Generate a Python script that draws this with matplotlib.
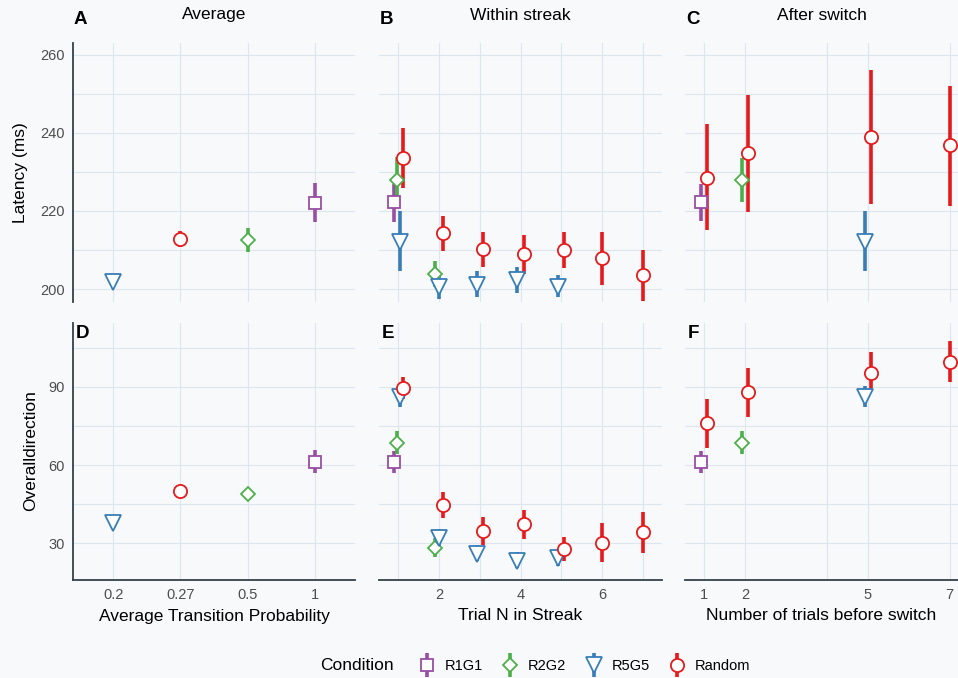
import numpy as np
import matplotlib
matplotlib.use("Agg")
import matplotlib.pyplot as plt
from matplotlib.container import ErrorbarContainer
from matplotlib.legend_handler import HandlerErrorbar

plt.rcParams['font.family'] = ['Liberation Sans', 'DejaVu Sans']

# conditions / styles
conditions = ['R1G1', 'R2G2', 'R5G5', 'Random']
colors = {'R1G1': '#984EA3', 'R2G2': '#4DAF4A', 'R5G5': '#377EB8', 'Random': '#E41A1C'}
markers = {'R1G1': 's', 'R2G2': 'D', 'R5G5': 'v', 'Random': 'o'}
msizes = {'R1G1': 8.5, 'R2G2': 7.5, 'R5G5': 12, 'Random': 9.5}

# panel A / D : average
avg_labels = ['0.2', '0.27', '0.5', '1']
avg_cond = ['R5G5', 'Random', 'R2G2', 'R1G1']
avg_lat = [201.8, 212.7, 212.6, 222.1]
avg_lat_lo = [200.6, 210.7, 209.4, 217.1]
avg_lat_hi = [203.2, 214.8, 215.6, 227.1]
avg_dir = [37.6, 50.0, 48.7, 61.0]
avg_dir_lo = [37.1, 49.5, 48.2, 56.8]
avg_dir_hi = [38.1, 50.5, 49.2, 65.8]

# panel B / E : within streak
streak_x = {'R1G1': [1], 'R2G2': [1, 2], 'R5G5': [1, 2, 3, 4, 5], 'Random': [1, 2, 3, 4, 5, 6, 7]}
streak_lat = {'R1G1': [222.2], 'R2G2': [227.9, 203.8],
              'R5G5': [212.0, 200.6, 201.0, 202.3, 200.6],
              'Random': [233.6, 214.3, 210.2, 209.0, 210.0, 207.9, 203.6]}
streak_lat_lo = {'R1G1': [217.3], 'R2G2': [222.5, 200.5],
                 'R5G5': [204.7, 197.4, 198.0, 199.0, 198.0],
                 'Random': [225.8, 209.8, 205.6, 203.8, 205.3, 201.0, 196.9]}
streak_lat_hi = {'R1G1': [227.0], 'R2G2': [233.8, 207.3],
                 'R5G5': [220.1, 203.5, 204.7, 205.6, 203.6],
                 'Random': [241.2, 218.7, 214.7, 213.8, 214.6, 214.5, 210.0]}
streak_dir = {'R1G1': [61.0], 'R2G2': [68.6, 28.0],
              'R5G5': [86.0, 31.8, 25.8, 23.2, 24.1],
              'Random': [89.5, 44.6, 34.7, 37.2, 27.7, 30.1, 34.3]}
streak_dir_lo = {'R1G1': [56.8], 'R2G2': [64.2, 24.7],
                 'R5G5': [82.2, 28.5, 23.0, 20.5, 21.0],
                 'Random': [85.5, 39.5, 29.2, 31.5, 23.0, 22.8, 26.0]}
streak_dir_hi = {'R1G1': [65.5], 'R2G2': [73.2, 31.8],
                 'R5G5': [89.0, 35.3, 29.2, 26.4, 27.3],
                 'Random': [93.7, 49.7, 40.1, 42.7, 32.4, 37.6, 42.0]}

# panel C / F : after switch
switch_x = {'R1G1': [1], 'R2G2': [2], 'R5G5': [5], 'Random': [1, 2, 5, 7]}
switch_lat = {'R1G1': [222.2], 'R2G2': [227.9], 'R5G5': [212.1],
              'Random': [228.5, 234.8, 238.9, 236.8]}
switch_lat_lo = {'R1G1': [217.4], 'R2G2': [222.3], 'R5G5': [204.7],
                 'Random': [215.1, 219.7, 221.7, 221.4]}
switch_lat_hi = {'R1G1': [226.8], 'R2G2': [233.5], 'R5G5': [220.0],
                 'Random': [242.3, 249.6, 256.0, 252.0]}
switch_dir = {'R1G1': [61.3], 'R2G2': [68.6], 'R5G5': [86.0],
              'Random': [76.0, 88.2, 95.3, 99.7]}
switch_dir_lo = {'R1G1': [56.8], 'R2G2': [64.2], 'R5G5': [82.2],
                 'Random': [66.4, 78.6, 88.6, 92.0]}
switch_dir_hi = {'R1G1': [65.5], 'R2G2': [73.2], 'R5G5': [90.4],
                 'Random': [85.3, 97.2, 103.6, 107.7]}

BG = '#f8f9fb'
GRID = '#dde6ec'
SPINE = '#34424a'
TICKC = '#4d4d4d'

W, H = 958, 678
fig = plt.figure(figsize=(W / 100, H / 100), dpi=100, facecolor=BG)


def px_axes(x0, y0, x1, y1):
    ax = fig.add_axes([x0 / W, 1 - y1 / H, (x1 - x0) / W, (y1 - y0) / H])
    ax.set_facecolor(BG)
    for s in ax.spines.values():
        s.set_visible(False)
    ax.tick_params(length=0, labelsize=10.5, labelcolor=TICKC, pad=6)
    ax.set_axisbelow(True)
    return ax


def draw(ax, d):
    handles = {}
    xs, ys, los, his = d
    # dodge by number of groups at each x
    allx = {}
    for c in conditions:
        for x in xs.get(c, []):
            allx.setdefault(x, []).append(c)
    for c in conditions:
        if c not in xs:
            continue
        px = []
        for x in xs[c]:
            grp = allx[x]
            n = len(grp)
            i = grp.index(c)
            px.append(x + (i - (n - 1) / 2) * 0.3 / n)
        y = np.array(ys[c])
        err = [y - np.array(los[c]), np.array(his[c]) - y]
        h = ax.errorbar(px, y, yerr=err, fmt=markers[c], color=colors[c],
                        mfc='white', mec=colors[c], ms=msizes[c], mew=1.3,
                        elinewidth=2.6, capsize=0, ls='none', label=c)
        handles[c] = h
    return handles


top_y0, top_y1 = 43, 302
bot_y0, bot_y1 = 323, 580
cols = [(73, 355), (379, 662), (685, 958)]
top_ylim = (196.7, 263.0)
bot_ylim = (15.8, 114.6)

axA = px_axes(cols[0][0], top_y0, cols[0][1], top_y1)
axB = px_axes(cols[1][0], top_y0, cols[1][1], top_y1)
axC = px_axes(cols[2][0], top_y0, cols[2][1], top_y1)
axD = px_axes(cols[0][0], bot_y0, cols[0][1], bot_y1)
axE = px_axes(cols[1][0], bot_y0, cols[1][1], bot_y1)
axF = px_axes(cols[2][0], bot_y0, cols[2][1], bot_y1)

avg_pos = {c: [i + 1] for i, c in enumerate(avg_cond)}
hA = draw(axA, (avg_pos, {c: [avg_lat[i]] for i, c in enumerate(avg_cond)},
                {c: [avg_lat_lo[i]] for i, c in enumerate(avg_cond)},
                {c: [avg_lat_hi[i]] for i, c in enumerate(avg_cond)}))
draw(axD, (avg_pos, {c: [avg_dir[i]] for i, c in enumerate(avg_cond)},
           {c: [avg_dir_lo[i]] for i, c in enumerate(avg_cond)},
           {c: [avg_dir_hi[i]] for i, c in enumerate(avg_cond)}))
draw(axB, (streak_x, streak_lat, streak_lat_lo, streak_lat_hi))
draw(axE, (streak_x, streak_dir, streak_dir_lo, streak_dir_hi))
draw(axC, (switch_x, switch_lat, switch_lat_lo, switch_lat_hi))
draw(axF, (switch_x, switch_dir, switch_dir_lo, switch_dir_hi))

for ax in (axA, axD):
    ax.set_xlim(0.4, 4.6)
    ax.set_xticks([1, 2, 3, 4])
for ax in (axB, axE):
    ax.set_xlim(0.53, 7.47)
    ax.set_xticks([2, 4, 6])
    ax.set_xticks([1, 3, 5, 7], minor=True)
for ax in (axC, axF):
    ax.set_xlim(0.54, 7.2)
    ax.set_xticks([1, 2, 5, 7])
    ax.set_xticks([4], minor=True)

for ax in (axA, axB, axC):
    ax.set_ylim(*top_ylim)
    ax.set_yticks([200, 220, 240, 260])
    ax.set_yticks([210, 230, 250], minor=True)
    ax.tick_params(labelbottom=False)
for ax in (axD, axE, axF):
    ax.set_ylim(*bot_ylim)
    ax.set_yticks([30, 60, 90])
    ax.set_yticks([45, 75, 105], minor=True)
    ax.spines['bottom'].set_visible(True)
    ax.spines['bottom'].set_color(SPINE)
    ax.spines['bottom'].set_linewidth(1.3)

for ax in (axB, axC, axE, axF):
    ax.tick_params(labelleft=False)
for ax in (axA, axD):
    ax.spines['left'].set_visible(True)
    ax.spines['left'].set_color(SPINE)
    ax.spines['left'].set_linewidth(1.3)

for ax in (axA, axB, axC, axD, axE, axF):
    ax.tick_params(which='minor', length=0)
    ax.grid(True, which='both', color=GRID, linewidth=0.8)

axD.set_xticklabels(avg_labels)
axF.set_xticklabels(['1', '2', '5', '7'])

# titles and panel tags
titles = ['Average', 'Within streak', 'After switch']
tags_top = ['A', 'B', 'C']
tags_bot = ['D', 'E', 'F']
xlabels = ['Average Transition Probability', 'Trial N in Streak', 'Number of trials before switch']
for (x0, x1), t, a, d, xl in zip(cols, titles, tags_top, tags_bot, xlabels):
    fig.text((x0 + x1) / 2 / W, 1 - 15 / H, t, ha='center', va='center', fontsize=12.5)
    fig.text((x0 + 1) / W, 1 - 20 / H, a, ha='left', va='center', fontsize=13.5, fontweight='bold')
    fig.text((x0 + 3) / W, 1 - 333 / H, d, ha='left', va='center', fontsize=13.5, fontweight='bold')
    fig.text((x0 + x1) / 2 / W, 1 - 616 / H, xl, ha='center', va='center', fontsize=12.5)

fig.text(21 / W, 1 - 173 / H, 'Latency (ms)', rotation=90, ha='center', va='center', fontsize=12.5)
fig.text(31 / W, 1 - 451 / H, 'Overalldirection', rotation=90, ha='center', va='center', fontsize=12.5)

# legend
fig.text(320 / W, 1 - 666 / H, 'Condition', ha='left', va='center', fontsize=12.5)
leg = fig.legend([hA[c] for c in conditions], conditions, loc='center left',
                 bbox_to_anchor=(405 / W, 1 - 666 / H), ncol=4, frameon=False,
                 fontsize=10.5, handlelength=1.2, handletextpad=0.6, columnspacing=1.3,
                 handler_map={ErrorbarContainer: HandlerErrorbar(yerr_size=0.85)})

fig.savefig('out.png', dpi=100, facecolor=BG)
